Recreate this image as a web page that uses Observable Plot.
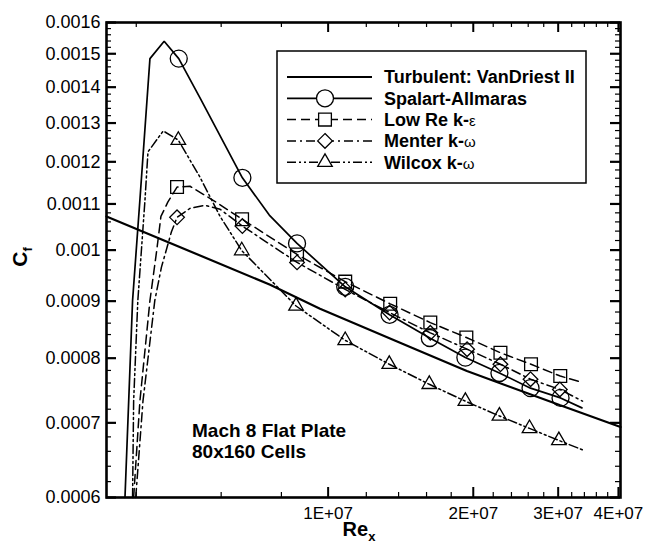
<!DOCTYPE html>
<html><head><meta charset="utf-8">
<script src="https://cdn.jsdelivr.net/npm/d3@7"></script>
<script src="https://cdn.jsdelivr.net/npm/@observablehq/plot@0.6"></script>
<style>
html,body{margin:0;padding:0;background:#fff;}
#chart svg{display:block;}
</style></head>
<body><div id="chart"></div>
<script>
// ---------- data ----------
const seriesNames = ["Turbulent: VanDriest II", "Spalart-Allmaras", "Low Re k-ε", "Menter k-ω", "Wilcox k-ω"];

const vdRe = [3.47e6, 7.58e6, 9.62e6, 1.41e7, 1.94e7, 3.03e7, 4.04e7];
const vdCf = [0.001072, 0.000931, 0.000886, 0.000826, 0.000779, 0.000726, 0.000694];

const saRe = [3.79e6, 3.93e6, 4.07e6, 4.27e6, 4.57e6, 4.90e6, 5.42e6, 6.64e6, 7.55e6, 8.62e6, 1.085e7, 1.341e7, 1.625e7, 1.926e7, 2.266e7, 2.629e7, 3.034e7, 3.36e7];
const saCf = [0.0006, 0.000901, 0.001109, 0.001485, 0.001539, 0.001485, 0.00137, 0.001161, 0.001075, 0.001014, 0.000927, 0.000875, 0.000834, 0.000801, 0.000776, 0.000752, 0.000737, 0.000722];
const saSymRe = [4.90e6, 6.64e6, 8.62e6, 1.085e7, 1.341e7, 1.625e7, 1.926e7, 2.266e7, 2.629e7, 3.034e7];
const saSymCf = [0.001485, 0.001161, 0.001014, 0.000927, 0.000875, 0.000834, 0.000801, 0.000776, 0.000752, 0.000737];

const keRe = [3.95e6, 4.07e6, 4.27e6, 4.41e6, 4.50e6, 4.65e6, 4.86e6, 5.17e6, 5.82e6, 6.63e6, 8.62e6, 1.085e7, 1.345e7, 1.629e7, 1.935e7, 2.277e7, 2.635e7, 3.03e7, 3.36e7];
const keCf = [0.0006, 0.000732, 0.000901, 0.000999, 0.001072, 0.001104, 0.001139, 0.001141, 0.001106, 0.001066, 0.000991, 0.000937, 0.000895, 0.000861, 0.000835, 0.000809, 0.00079, 0.000771, 0.000761];
const keSymRe = [4.86e6, 6.63e6, 8.62e6, 1.085e7, 1.345e7, 1.629e7, 1.935e7, 2.277e7, 2.635e7, 3.03e7];
const keSymCf = [0.001139, 0.001066, 0.000991, 0.000937, 0.000895, 0.000861, 0.000835, 0.000809, 0.00079, 0.000771];

const meRe = [3.99e6, 4.13e6, 4.37e6, 4.51e6, 4.73e6, 4.86e6, 5.17e6, 5.55e6, 5.97e6, 6.64e6, 8.62e6, 1.085e7, 1.341e7, 1.629e7, 1.942e7, 2.277e7, 2.629e7, 3.024e7, 3.37e7];
const meCf = [0.0006, 0.000732, 0.000901, 0.000965, 0.001038, 0.00107, 0.00109, 0.001097, 0.001088, 0.001051, 0.000975, 0.000922, 0.000879, 0.000843, 0.000815, 0.00079, 0.000766, 0.00075, 0.000732];
const meSymRe = [4.86e6, 6.64e6, 8.62e6, 1.085e7, 1.341e7, 1.629e7, 1.942e7, 2.277e7, 2.629e7, 3.024e7];
const meSymCf = [0.00107, 0.001051, 0.000975, 0.000922, 0.000879, 0.000843, 0.000815, 0.00079, 0.000766, 0.00075];

const wiRe = [3.93e6, 3.95e6, 4.03e6, 4.17e6, 4.23e6, 4.55e6, 4.89e6, 5.42e6, 5.97e6, 6.62e6, 8.58e6, 1.085e7, 1.339e7, 1.621e7, 1.926e7, 2.266e7, 2.616e7, 3.01e7, 3.37e7];
const wiCf = [0.0006, 0.000732, 0.000901, 0.001109, 0.001225, 0.001279, 0.001255, 0.001163, 0.001072, 0.000999, 0.000891, 0.00083, 0.00079, 0.000758, 0.000732, 0.00071, 0.000692, 0.000675, 0.000662];
const wiSymRe = [4.89e6, 6.62e6, 8.58e6, 1.085e7, 1.339e7, 1.621e7, 1.926e7, 2.266e7, 2.616e7, 3.01e7];
const wiSymCf = [0.001255, 0.000999, 0.000891, 0.00083, 0.00079, 0.000758, 0.000732, 0.00071, 0.000692, 0.000675];

const xTicks = [1e7, 2e7, 3e7, 4e7];
const xTickLabels = ["1E+07", "2E+07", "3E+07", "4E+07"];
const xMinorTicks = [4e6, 6e6, 8e6, 1.2e7, 1.4e7, 1.6e7, 1.8e7, 2.2e7, 2.4e7, 2.6e7, 2.8e7, 3.2e7, 3.4e7, 3.6e7, 3.8e7];
const yTicks = [0.0006, 0.0007, 0.0008, 0.0009, 0.001, 0.0011, 0.0012, 0.0013, 0.0014, 0.0015, 0.0016];
const yTickLabels = ["0.0006", "0.0007", "0.0008", "0.0009", "0.001", "0.0011", "0.0012", "0.0013", "0.0014", "0.0015", "0.0016"];
const noteText = "Mach 8 Flat Plate\n80x160 Cells";
const noteRe = 5.22e6, noteCf = 0.0007;

// ---------- build ----------
const zip = (xs, ys) => xs.map((x, i) => ({x, y: ys[i]}));
const yMinorTicks = d3.range(31, 80).map(k => k * 0.00002).filter(v => Math.abs(v * 10000 - Math.round(v * 10000)) > 1e-6);

const W = 656, H = 549, mL = 106, mR = 36, mT = 22, mB = 52;
const innerW = W - mL - mR, innerH = H - mT - mB;
const font = "'Liberation Sans', Arial, Helvetica, sans-serif";
const xLab = new Map(xTicks.map((t, i) => [t, xTickLabels[i]]));
const yLab = new Map(yTicks.map((t, i) => [t, yTickLabels[i]]));

const styles = [
  {line: zip(vdRe, vdCf), sym: null, dash: null, sw: 2.2},
  {line: zip(saRe, saCf), sym: zip(saSymRe, saSymCf), symbol: "circle", r: 8.5, dash: null, sw: 1.7},
  {line: zip(keRe, keCf), sym: zip(keSymRe, keSymCf), symbol: "square", r: 7.2, dash: "9,5", sw: 1.5},
  {line: zip(meRe, meCf), sym: zip(meSymRe, meSymCf), symbol: "diamond2", r: 6.6, dash: "9,4,2,4", sw: 1.5},
  {line: zip(wiRe, wiCf), sym: zip(wiSymRe, wiSymCf), symbol: "triangle", r: 5.4, dash: "9,3,2,3,2,3", sw: 1.5}
];

const marks = [
  Plot.tickX(xMinorTicks, {x: d => d, insetTop: innerH - 5, stroke: "black", strokeWidth: 1.2}),
  Plot.tickX(xMinorTicks, {x: d => d, insetBottom: innerH - 5, stroke: "black", strokeWidth: 1.2}),
  Plot.tickX(xTicks, {x: d => d, insetTop: innerH - 10, stroke: "black", strokeWidth: 2}),
  Plot.tickX(xTicks, {x: d => d, insetBottom: innerH - 10, stroke: "black", strokeWidth: 2}),
  Plot.tickY(yMinorTicks, {y: d => d, insetRight: innerW - 5, stroke: "black", strokeWidth: 1.2}),
  Plot.tickY(yMinorTicks, {y: d => d, insetLeft: innerW - 5, stroke: "black", strokeWidth: 1.2}),
  Plot.tickY(yTicks, {y: d => d, insetRight: innerW - 10, stroke: "black", strokeWidth: 2.2}),
  Plot.tickY(yTicks, {y: d => d, insetLeft: innerW - 10, stroke: "black", strokeWidth: 2.2}),
  Plot.axisX(xTicks, {tickSize: 0, tickPadding: 9, tickFormat: d => xLab.get(d), label: null, fontSize: 17}),
  Plot.axisY(yTicks, {tickSize: 0, tickPadding: 6, tickFormat: d => yLab.get(d), label: null, fontSize: 18})
];
styles.forEach(s => {
  marks.push(Plot.line(s.line, {x: "x", y: "y", stroke: "black", strokeWidth: s.sw, strokeDasharray: s.dash, strokeLinejoin: "miter"}));
  if (s.sym) marks.push(Plot.dot(s.sym, {x: "x", y: "y", symbol: () => s.symbol, r: s.r, stroke: "black", fill: "none", strokeWidth: 1.3}));
});
marks.push(Plot.text([noteText], {x: () => noteRe, y: () => noteCf, text: d => d, textAnchor: "start", lineAnchor: "top", fontWeight: "bold", fontSize: 19, lineHeight: 1.07, fill: "black"}));
marks.push(Plot.frame({stroke: "black", strokeWidth: 2.6}));

const plot = Plot.plot({
  width: W, height: H,
  marginLeft: mL, marginRight: mR, marginTop: mT, marginBottom: mB,
  style: {fontFamily: font, fontSize: "17px", color: "black", background: "white", overflow: "visible"},
  x: {type: "log", domain: [3.47e6, 4.04e7]},
  y: {type: "log", domain: [0.0006, 0.0016]},
  marks
});
document.getElementById("chart").appendChild(plot);

// ---------- axis titles & legend ----------
const svg = d3.select(plot);
const yt = svg.append("text").attr("transform", "translate(27,257) rotate(-90)")
  .attr("font-family", font).attr("font-weight", "bold").attr("fill", "black").attr("text-anchor", "middle");
yt.append("tspan").attr("font-size", 21).text("C");
yt.append("tspan").attr("font-size", 13).attr("dy", 5).text("f");

const xt = svg.append("text").attr("x", 359).attr("y", 536)
  .attr("font-family", font).attr("font-weight", "bold").attr("fill", "black").attr("text-anchor", "middle");
xt.append("tspan").attr("font-size", 20).text("Re");
xt.append("tspan").attr("font-size", 13).attr("dy", 5).text("x");

const leg = svg.append("g").attr("font-family", font).attr("text-anchor", "start");
leg.append("rect").attr("x", 277).attr("y", 51).attr("width", 309).attr("height", 132)
  .attr("fill", "white").attr("stroke", "black").attr("stroke-width", 1.5);
const symMap = {circle: d3.symbolCircle, square: d3.symbolSquare, diamond2: d3.symbolDiamond2, triangle: d3.symbolTriangle};
seriesNames.forEach((name, i) => {
  const s = styles[i];
  const cy = 77 + i * 21.3;
  leg.append("line").attr("x1", 287).attr("x2", 372).attr("y1", cy).attr("y2", cy)
    .attr("stroke", "black").attr("stroke-width", s.sw).attr("stroke-dasharray", s.dash);
  if (s.sym) leg.append("path").attr("transform", `translate(325,${cy})`)
    .attr("d", d3.symbol(symMap[s.symbol], Math.PI * s.r * s.r)())
    .attr("fill", "white").attr("stroke", "black").attr("stroke-width", 1.3);
  const t = leg.append("text").attr("x", 384).attr("y", cy).attr("dy", "0.36em").attr("text-anchor", "start")
    .attr("font-size", 18).attr("font-weight", "bold").attr("fill", "black");
  const last = name.slice(-1);
  if (last === "ε" || last === "ω") {
    t.append("tspan").text(name.slice(0, -1));
    t.append("tspan").attr("font-weight", "normal").attr("font-size", 15).text(last);
  } else t.text(name);
});
</script>
</body></html>
